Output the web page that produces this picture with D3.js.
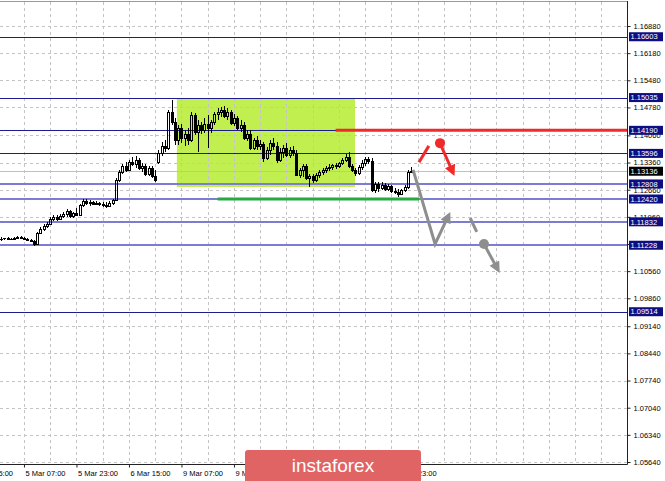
<!DOCTYPE html>
<html><head><meta charset="utf-8">
<script src="https://cdn.jsdelivr.net/npm/d3@7"></script>
<style>
html,body{margin:0;padding:0;background:#fff;}
svg{display:block;}
text{font-family:"Liberation Sans",Arial,sans-serif;}
</style></head><body>
<div id="chart"></div>
<script>
// ---- DATA (H1 bars, index 0 = 5 Mar 00:00) ----
const open = [1.1139,1.1141,1.1141,1.1139,1.1139,1.1141,1.1144,1.1141,1.1139,1.1136,
1.1134,1.1126,1.1154,1.1165,1.1172,1.1178,1.1190,1.1196,1.1190,1.1198,
1.1203,1.1211,1.1198,1.1206,1.1201,1.1226,1.1237,1.1232,1.1234,1.1229,
1.1232,1.1229,1.1226,1.1224,1.1232,1.1239,1.1291,1.1312,1.1327,1.1317,
1.1337,1.1332,1.1342,1.1322,1.1327,1.1307,1.1322,1.1301,1.1337,1.1361,
1.1379,1.1373,1.1466,1.1440,1.1394,1.1425,1.1399,1.1410,1.1394,1.1459,
1.1415,1.1433,1.1420,1.1435,1.1425,1.1440,1.1461,1.1466,1.1471,1.1456,
1.1466,1.1438,1.1451,1.1425,1.1433,1.1399,1.1410,1.1373,1.1394,1.1379,
1.1384,1.1348,1.1368,1.1386,1.1379,1.1342,1.1363,1.1373,1.1355,1.1368,
1.1361,1.1304,1.1317,1.1327,1.1296,1.1301,1.1291,1.1304,1.1312,1.1317,
1.1322,1.1324,1.1330,1.1327,1.1335,1.1342,1.1350,1.1327,1.1317,1.1309,
1.1324,1.1335,1.1345,1.1340,1.1265,1.1281,1.1270,1.1278,1.1268,1.1276,
1.1263,1.1260,1.1255,1.1265,1.1273,1.1312];
const high = [1.1144,1.1141,1.1144,1.1141,1.1144,1.1147,1.1147,1.1144,1.1141,1.1139,
1.1136,1.1157,1.1170,1.1178,1.1183,1.1196,1.1201,1.1201,1.1203,1.1208,
1.1216,1.1214,1.1208,1.1219,1.1229,1.1242,1.1242,1.1239,1.1237,1.1237,
1.1234,1.1234,1.1234,1.1237,1.1242,1.1296,1.1317,1.1332,1.1337,1.1342,
1.1350,1.1353,1.1348,1.1335,1.1332,1.1327,1.1327,1.1317,1.1368,1.1389,
1.1394,1.1471,1.1497,1.1451,1.1433,1.1435,1.1420,1.1425,1.1466,1.1464,
1.1446,1.1440,1.1451,1.1459,1.1446,1.1466,1.1477,1.1479,1.1482,1.1477,
1.1471,1.1461,1.1456,1.1446,1.1440,1.1420,1.1420,1.1399,1.1404,1.1394,
1.1389,1.1376,1.1394,1.1399,1.1389,1.1373,1.1381,1.1386,1.1376,1.1379,
1.1368,1.1322,1.1332,1.1332,1.1307,1.1307,1.1309,1.1317,1.1322,1.1327,
1.1332,1.1332,1.1335,1.1337,1.1348,1.1358,1.1363,1.1332,1.1322,1.1330,
1.1342,1.1350,1.1350,1.1348,1.1286,1.1286,1.1286,1.1283,1.1281,1.1278,
1.1270,1.1268,1.1268,1.1278,1.1317,1.1324];
const low = [1.1134,1.1136,1.1136,1.1136,1.1136,1.1139,1.1139,1.1136,1.1134,1.1131,
1.1121,1.1123,1.1152,1.1160,1.1167,1.1175,1.1185,1.1185,1.1188,1.1193,
1.1196,1.1193,1.1193,1.1198,1.1198,1.1221,1.1226,1.1224,1.1226,1.1226,
1.1224,1.1221,1.1219,1.1221,1.1226,1.1237,1.1286,1.1307,1.1312,1.1314,
1.1327,1.1322,1.1317,1.1312,1.1301,1.1301,1.1296,1.1286,1.1332,1.1353,
1.1363,1.1368,1.1433,1.1381,1.1381,1.1386,1.1379,1.1381,1.1389,1.1407,
1.1363,1.1410,1.1412,1.1373,1.1412,1.1433,1.1446,1.1453,1.1451,1.1446,
1.1433,1.1430,1.1420,1.1415,1.1394,1.1391,1.1368,1.1368,1.1368,1.1368,
1.1337,1.1342,1.1355,1.1368,1.1335,1.1337,1.1348,1.1350,1.1348,1.1353,
1.1301,1.1296,1.1299,1.1291,1.1273,1.1283,1.1286,1.1296,1.1304,1.1309,
1.1314,1.1317,1.1319,1.1322,1.1330,1.1337,1.1322,1.1312,1.1301,1.1304,
1.1317,1.1327,1.1332,1.1260,1.1257,1.1260,1.1265,1.1263,1.1263,1.1257,
1.1255,1.1247,1.1252,1.1260,1.1268,1.1309];
const close = [1.1139,1.1141,1.1139,1.1139,1.1141,1.1144,1.1141,1.1139,1.1136,1.1134,
1.1126,1.1154,1.1165,1.1172,1.1178,1.1190,1.1196,1.1190,1.1198,1.1203,
1.1211,1.1198,1.1206,1.1201,1.1226,1.1237,1.1232,1.1234,1.1229,1.1232,
1.1229,1.1226,1.1224,1.1232,1.1239,1.1291,1.1312,1.1327,1.1317,1.1337,
1.1332,1.1342,1.1322,1.1327,1.1307,1.1322,1.1301,1.1291,1.1361,1.1379,
1.1373,1.1466,1.1440,1.1394,1.1425,1.1399,1.1410,1.1394,1.1459,1.1415,
1.1433,1.1420,1.1435,1.1425,1.1440,1.1461,1.1466,1.1471,1.1456,1.1466,
1.1438,1.1451,1.1425,1.1433,1.1399,1.1410,1.1373,1.1394,1.1379,1.1384,
1.1348,1.1368,1.1386,1.1379,1.1342,1.1363,1.1373,1.1355,1.1368,1.1361,
1.1304,1.1317,1.1327,1.1296,1.1301,1.1291,1.1304,1.1312,1.1317,1.1322,
1.1324,1.1330,1.1327,1.1335,1.1342,1.1350,1.1327,1.1317,1.1309,1.1324,
1.1335,1.1345,1.1340,1.1265,1.1281,1.1270,1.1278,1.1268,1.1276,1.1263,
1.1260,1.1255,1.1265,1.1273,1.1312,1.13136];

const timeTickIndex = [-9,7,23,39,55,71,87,103,119];
const timeTickLabels = ["4 Mar 15:00","5 Mar 07:00","5 Mar 23:00","6 Mar 15:00","9 Mar 07:00","9 Mar 23:00","10 Mar 15:00","11 Mar 07:00","11 Mar 23:00"];
const priceTicks = [1.16880,1.16180,1.15480,1.14780,1.14060,1.13360,1.12660,1.11960,1.11260,1.10560,1.09860,1.09140,1.08440,1.07740,1.07040,1.06340,1.05640];
const majorLevels = [1.16603,1.15035,1.14190,1.13596,1.09514];
const minorLevels = [1.12808,1.12420,1.11832,1.11228];
const bidPrice = 1.13136;
const zoneTime = [53.6,107.9];
const zonePrice = [1.1500,1.1273];
const resistanceFrom = 102, resistancePrice = 1.14190;
const supportTime = [66,127.4], supportPrice = 1.12420;
const redSeg = [[127.4,1.1337],[130.4,1.1379]];
const redDot = [133.8,1.1386];
const redArrow = [[133.8,1.1386],[137.8,1.1309]];
const grayPath = [[125.6,1.1317],[132.3,1.1126],[136.5,1.1201]];
const graySeg = [[143,1.1193],[145,1.1157]];
const grayDot = [147.2,1.1126];
const grayArrow = [[147.2,1.1126],[151.5,1.1059]];

// ---- DRAW ----
const W=665,H=481, PR=627.5, PB=464;
const x = d3.scaleLinear().domain([0,191]).range([1, 1+191*3.281]);
const y = d3.scaleLinear().domain([1.05640,1.16880]).range([462,26]);
const svg = d3.select("#chart").append("svg").attr("width",W).attr("height",H);
const defs = svg.append("defs");
defs.append("clipPath").attr("id","clip").append("rect").attr("x",0).attr("y",2).attr("width",627).attr("height",462);
function marker(id,color){
  defs.append("marker").attr("id",id).attr("viewBox","0 0 10 10").attr("refX",7).attr("refY",5)
   .attr("markerWidth",13).attr("markerHeight",11).attr("markerUnits","userSpaceOnUse").attr("orient","auto")
   .append("path").attr("d","M0,0 L10,5 L0,10 Z").attr("fill",color);
}
marker("arrRed","#f02a2a"); marker("arrGray","#8e8e8e");

const plot = svg.append("g").attr("clip-path","url(#clip)");
const px = v=>Math.round(x(v))+0.5, py = v=>Math.round(y(v))+0.5;

// zone
plot.append("rect").attr("x",x(zoneTime[0])).attr("y",y(zonePrice[0]))
  .attr("width",x(zoneTime[1])-x(zoneTime[0])).attr("height",y(zonePrice[1])-y(zonePrice[0]))
  .attr("fill","#c1ef50");

// grid
plot.selectAll(".hg").data(priceTicks).join("line").attr("x1",0).attr("x2",PR)
  .attr("y1",d=>py(d)).attr("y2",d=>py(d)).attr("stroke","#c4c4c4").attr("stroke-dasharray","3,3");
plot.selectAll(".vg").data(d3.range(-1,192,8)).join("line").attr("y1",2).attr("y2",PB)
  .attr("x1",d=>px(d)).attr("x2",d=>px(d)).attr("stroke","#c4c4c4").attr("stroke-dasharray","3,3");

// bid line
plot.append("line").attr("x1",0).attr("x2",PR).attr("y1",py(bidPrice)).attr("y2",py(bidPrice)).attr("stroke","#c0c0c0");

// levels
plot.selectAll(".mj").data(majorLevels).join("line").attr("x1",0).attr("x2",PR)
  .attr("y1",d=>py(d)).attr("y2",d=>py(d)).attr("stroke","#1c1c8a").attr("stroke-width",1);
plot.selectAll(".mn").data(minorLevels).join("line").attr("x1",0).attr("x2",PR)
  .attr("y1",d=>Math.round(y(d))).attr("y2",d=>Math.round(y(d))).attr("stroke","#7c7cd2").attr("stroke-width",2);

plot.append("line").attr("x1",x(resistanceFrom)).attr("x2",PR).attr("y1",y(resistancePrice)).attr("y2",y(resistancePrice))
  .attr("stroke","#f02a2a").attr("stroke-width",3);
plot.append("line").attr("x1",x(supportTime[0])).attr("x2",x(supportTime[1])).attr("y1",y(supportPrice)).attr("y2",y(supportPrice))
  .attr("stroke","#27a845").attr("stroke-width",3);

// candles
const idx = d3.range(open.length);
const cg = plot.append("g").attr("shape-rendering","crispEdges");
idx.forEach(i=>{
  const cx = Math.round(x(i));
  const o=open[i], c=close[i];
  const top = Math.round(y(Math.max(o,c))), bot = Math.round(y(Math.min(o,c)));
  const hi = Math.round(y(high[i])), lo = Math.round(y(low[i]));
  if (hi<top) cg.append("line").attr("x1",cx+0.5).attr("x2",cx+0.5).attr("y1",hi).attr("y2",top).attr("stroke","#000");
  if (lo>bot) cg.append("line").attr("x1",cx+0.5).attr("x2",cx+0.5).attr("y1",bot).attr("y2",lo).attr("stroke","#000");
  if (bot-top<1) {
    cg.append("line").attr("x1",cx-1).attr("x2",cx+2).attr("y1",top+0.5).attr("y2",top+0.5).attr("stroke","#000");
  } else if (c>=o) {
    cg.append("rect").attr("x",cx-0.5).attr("y",top+0.5).attr("width",2).attr("height",bot-top).attr("fill","none").attr("stroke","#000");
  } else {
    cg.append("rect").attr("x",cx-1).attr("y",top).attr("width",3).attr("height",bot-top+1).attr("fill","#000");
  }
});

// annotations
const ln = d3.line().x(d=>x(d[0])).y(d=>y(d[1]));
plot.append("path").attr("d",ln(redSeg)).attr("stroke","#f02a2a").attr("stroke-width",3).attr("fill","none");
plot.append("circle").attr("cx",x(redDot[0])).attr("cy",y(redDot[1])).attr("r",5).attr("fill","#f02a2a");
plot.append("path").attr("d",ln(redArrow)).attr("stroke","#f02a2a").attr("stroke-width",3).attr("fill","none").attr("marker-end","url(#arrRed)");
plot.append("path").attr("d",ln(grayPath)).attr("stroke","#8e8e8e").attr("stroke-width",3).attr("fill","none").attr("stroke-linejoin","miter").attr("marker-end","url(#arrGray)");
plot.append("path").attr("d",ln(graySeg)).attr("stroke","#8e8e8e").attr("stroke-width",3).attr("fill","none");
plot.append("circle").attr("cx",x(grayDot[0])).attr("cy",y(grayDot[1])).attr("r",5).attr("fill","#8e8e8e");
plot.append("path").attr("d",ln(grayArrow)).attr("stroke","#8e8e8e").attr("stroke-width",3).attr("fill","none").attr("marker-end","url(#arrGray)");

// frame
svg.append("line").attr("x1",0).attr("x2",PR).attr("y1",1.5).attr("y2",1.5).attr("stroke","#9a9a9a");
svg.append("line").attr("x1",PR).attr("x2",PR).attr("y1",1).attr("y2",PB+0.5).attr("stroke","#222");
svg.append("line").attr("x1",0).attr("x2",PR).attr("y1",PB+0.5).attr("y2",PB+0.5).attr("stroke","#222");

// right axis
const ra = svg.append("g").attr("transform",`translate(${PR},0)`)
  .call(d3.axisRight(y).tickValues(priceTicks).tickSize(3).tickPadding(3).tickFormat(d3.format(".5f")));
ra.select(".domain").remove();
ra.selectAll("text").attr("font-size","7.5px").attr("fill","#000").attr("font-family","Liberation Sans, Arial, sans-serif");
ra.selectAll("line").attr("stroke","#222");

// bottom axis
const ba = svg.append("g").attr("transform",`translate(0,${PB+0.5})`)
  .call(d3.axisBottom(x).tickValues(timeTickIndex).tickSize(3).tickFormat((d,i)=>timeTickLabels[i]));
ba.select(".domain").remove();
ba.selectAll("text").attr("font-size","7.5px").attr("fill","#000").attr("text-anchor","start").attr("x",1)
  .attr("font-family","Liberation Sans, Arial, sans-serif");
ba.selectAll("line").attr("stroke","#222");

// level labels
const lbl = svg.append("g");
function tag(v,bg){
  const cy = y(v);
  lbl.append("rect").attr("x",629).attr("y",cy-4.5).attr("width",34).attr("height",9).attr("fill",bg);
  lbl.append("text").attr("x",630.5).attr("y",cy+2.7).attr("font-size","7.5px").attr("fill","#fff").text(d3.format(".5f")(v));
}
majorLevels.concat(minorLevels).forEach(v=>tag(v,"#0e0e82"));
tag(bidPrice,"#000");

// watermark
svg.append("rect").attr("x",245).attr("y",450).attr("width",176).attr("height",40).attr("rx",3).attr("fill","#e06464");
svg.append("text").attr("x",333).attr("y",472).attr("text-anchor","middle").attr("fill","#fff")
  .attr("font-size","19px").attr("font-family","Open Sans, Lato, sans-serif").attr("font-weight",400).text("instaforex");
</script>
</body></html>
